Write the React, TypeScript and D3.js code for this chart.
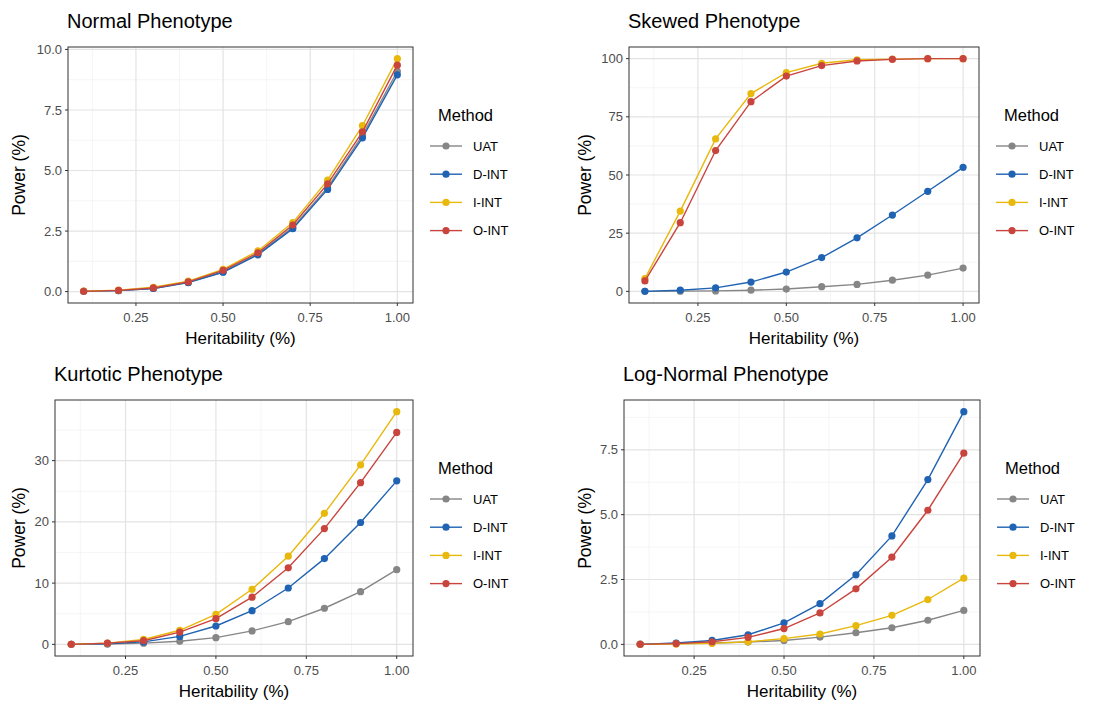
import React, { useEffect, useRef } from 'react';
import * as d3 from 'd3';

const heritability = [0.1, 0.2, 0.3, 0.4, 0.5, 0.6, 0.7, 0.8, 0.9, 1.0];
const methods = ['UAT', 'D-INT', 'I-INT', 'O-INT'];
const methodColors = ['#868686', '#1f63b2', '#e9b80c', '#c9443d'];
const xTicks = [0.25, 0.5, 0.75, 1.0];
const xTickLabels = ['0.25', '0.50', '0.75', '1.00'];

// Normal phenotype
const normalUAT = [0.01, 0.04, 0.13, 0.38, 0.82, 1.55, 2.65, 4.3, 6.45, 9.1];
const normalDINT = [0.01, 0.04, 0.13, 0.37, 0.8, 1.52, 2.6, 4.22, 6.35, 8.95];
const normalIINT = [0.02, 0.06, 0.18, 0.43, 0.92, 1.68, 2.85, 4.6, 6.85, 9.62];
const normalOINT = [0.01, 0.05, 0.15, 0.4, 0.88, 1.6, 2.75, 4.45, 6.6, 9.35];
const normalTicks = [0, 2.5, 5, 7.5, 10];
const normalTickLabels = ['0.0', '2.5', '5.0', '7.5', '10.0'];

// Skewed phenotype
const skewedUAT = [0, 0.1, 0.2, 0.5, 1.0, 2.0, 3.0, 4.8, 7.0, 10.0];
const skewedDINT = [0, 0.5, 1.5, 4.0, 8.3, 14.5, 23.0, 32.8, 43.0, 53.3];
const skewedIINT = [5.5, 34.5, 65.5, 85.0, 94.0, 98.0, 99.5, 99.8, 100, 100];
const skewedOINT = [4.5, 29.5, 60.5, 81.5, 92.5, 97.0, 99.0, 99.7, 100, 100];
const skewedTicks = [0, 25, 50, 75, 100];
const skewedTickLabels = ['0', '25', '50', '75', '100'];

// Kurtotic phenotype
const kurtUAT = [0, 0.05, 0.2, 0.5, 1.1, 2.2, 3.7, 5.9, 8.6, 12.2];
const kurtDINT = [0, 0.1, 0.4, 1.3, 3.0, 5.5, 9.2, 14.0, 19.9, 26.7];
const kurtIINT = [0, 0.2, 0.8, 2.3, 4.9, 9.0, 14.4, 21.4, 29.3, 38.0];
const kurtOINT = [0, 0.2, 0.6, 2.0, 4.2, 7.7, 12.5, 18.9, 26.4, 34.6];
const kurtTicks = [0, 10, 20, 30];
const kurtTickLabels = ['0', '10', '20', '30'];

// Log-normal phenotype
const lognUAT = [0.01, 0.04, 0.05, 0.09, 0.15, 0.28, 0.45, 0.64, 0.93, 1.31];
const lognDINT = [0, 0.05, 0.15, 0.37, 0.83, 1.57, 2.68, 4.18, 6.35, 8.97];
const lognIINT = [0, 0.01, 0.04, 0.1, 0.22, 0.4, 0.72, 1.12, 1.73, 2.55];
const lognOINT = [0, 0.03, 0.1, 0.27, 0.61, 1.21, 2.14, 3.36, 5.17, 7.37];
const lognTicks = [0, 2.5, 5, 7.5];
const lognTickLabels = ['0.0', '2.5', '5.0', '7.5'];

const panels = [
  { title: 'Normal Phenotype', series: [normalUAT, normalDINT, normalIINT, normalOINT], ticks: normalTicks, tickLabels: normalTickLabels, box: [68, 47, 413, 303], ylabX: 19 },
  { title: 'Skewed Phenotype', series: [skewedUAT, skewedDINT, skewedIINT, skewedOINT], ticks: skewedTicks, tickLabels: skewedTickLabels, box: [629, 47, 979, 303], ylabX: 585 },
  { title: 'Kurtotic Phenotype', series: [kurtUAT, kurtDINT, kurtIINT, kurtOINT], ticks: kurtTicks, tickLabels: kurtTickLabels, box: [55, 400, 413, 656], ylabX: 19 },
  { title: 'Log-Normal Phenotype', series: [lognUAT, lognDINT, lognIINT, lognOINT], ticks: lognTicks, tickLabels: lognTickLabels, box: [624, 400, 980, 656], ylabX: 585 },
];

const FONT = '"Liberation Sans", Arial, Helvetica, sans-serif';

const App = () => {
  const svgRef = useRef<SVGSVGElement>(null);

  useEffect(() => {
    const svg = d3.select(svgRef.current);
    svg.selectAll('*').remove();

    panels.forEach(p => {
      const [x0, y0, x1, y1] = p.box;
      const g = svg.append('g');

      // scales with ggplot-style 5% expansion
      const x = d3.scaleLinear().domain([0.1 - 0.045, 1.0 + 0.045]).range([x0, x1]);
      const all = p.series.flat();
      const lo = d3.min(all)!, hi = d3.max(all)!;
      const pad = (hi - lo) * 0.05;
      const y = d3.scaleLinear().domain([lo - pad, hi + pad]).range([y1, y0]);

      // minor grid
      const step = p.ticks[1] - p.ticks[0];
      const yMinor = p.ticks.map(t => t + step / 2).filter(t => y(t) > y0 && y(t) < y1);
      const yMinorLow = p.ticks[0] - step / 2;
      if (y(yMinorLow) < y1) yMinor.push(yMinorLow);
      const xMinor = [0.125, 0.375, 0.625, 0.875];

      g.selectAll('.ymin').data(yMinor).enter().append('line')
        .attr('x1', x0).attr('x2', x1).attr('y1', d => y(d)).attr('y2', d => y(d))
        .attr('stroke', '#f0f0f0').attr('stroke-width', 0.7);
      g.selectAll('.xmin').data(xMinor).enter().append('line')
        .attr('y1', y0).attr('y2', y1).attr('x1', d => x(d)).attr('x2', d => x(d))
        .attr('stroke', '#f0f0f0').attr('stroke-width', 0.7);

      // major grid
      g.selectAll('.ymaj').data(p.ticks).enter().append('line')
        .attr('x1', x0).attr('x2', x1).attr('y1', d => y(d)).attr('y2', d => y(d))
        .attr('stroke', '#e3e3e3').attr('stroke-width', 1.2);
      g.selectAll('.xmaj').data(xTicks).enter().append('line')
        .attr('y1', y0).attr('y2', y1).attr('x1', d => x(d)).attr('x2', d => x(d))
        .attr('stroke', '#e3e3e3').attr('stroke-width', 1.2);

      // series lines and points
      const line = d3.line<number>().x((d, i) => x(heritability[i])).y(d => y(d));
      p.series.forEach((s, k) => {
        g.append('path').datum(s)
          .attr('d', line)
          .attr('fill', 'none')
          .attr('stroke', methodColors[k])
          .attr('stroke-width', 1.4);
        g.selectAll('.pt' + k).data(s).enter().append('circle')
          .attr('cx', (d, i) => x(heritability[i]))
          .attr('cy', d => y(d))
          .attr('r', 3.6)
          .attr('fill', methodColors[k]);
      });

      // panel border
      g.append('rect')
        .attr('x', x0).attr('y', y0).attr('width', x1 - x0).attr('height', y1 - y0)
        .attr('fill', 'none').attr('stroke', '#333333').attr('stroke-width', 1);

      // y axis ticks and labels
      p.ticks.forEach((t, i) => {
        g.append('line').attr('x1', x0 - 3).attr('x2', x0).attr('y1', y(t)).attr('y2', y(t))
          .attr('stroke', '#333333').attr('stroke-width', 1);
        g.append('text').attr('x', x0 - 6).attr('y', y(t)).attr('dy', '0.35em')
          .attr('text-anchor', 'end').attr('fill', '#4d4d4d')
          .style('font-family', FONT).style('font-size', '13px')
          .text(p.tickLabels[i]);
      });

      // x axis ticks and labels
      xTicks.forEach((t, i) => {
        g.append('line').attr('x1', x(t)).attr('x2', x(t)).attr('y1', y1).attr('y2', y1 + 3)
          .attr('stroke', '#333333').attr('stroke-width', 1);
        g.append('text').attr('x', x(t)).attr('y', y1 + 19)
          .attr('text-anchor', 'middle').attr('fill', '#4d4d4d')
          .style('font-family', FONT).style('font-size', '13px')
          .text(xTickLabels[i]);
      });

      // axis titles
      g.append('text').attr('x', (x0 + x1) / 2).attr('y', y1 + 41)
        .attr('text-anchor', 'middle').attr('fill', '#000')
        .style('font-family', FONT).style('font-size', '17px')
        .text('Heritability (%)');
      g.append('text')
        .attr('transform', `translate(${p.ylabX},${(y0 + y1) / 2}) rotate(-90)`)
        .attr('text-anchor', 'middle').attr('dy', '0.35em').attr('fill', '#000')
        .style('font-family', FONT).style('font-size', '17.5px')
        .text('Power (%)');

      // title
      g.append('text').attr('x', x0 - 1).attr('y', y0 - 19)
        .attr('fill', '#000')
        .style('font-family', FONT).style('font-size', '20px')
        .text(p.title);

      // legend
      const lx = x1 + 17;
      const ly = (y0 + y1) / 2 - 54;
      g.append('text').attr('x', lx + 8).attr('y', ly)
        .attr('fill', '#000')
        .style('font-family', FONT).style('font-size', '16.5px')
        .text('Method');
      methods.forEach((m, k) => {
        const yy = ly + 25 + k * 28.2;
        g.append('line').attr('x1', lx).attr('x2', lx + 32).attr('y1', yy).attr('y2', yy)
          .attr('stroke', methodColors[k]).attr('stroke-width', 1.4);
        g.append('circle').attr('cx', lx + 16).attr('cy', yy).attr('r', 3.6)
          .attr('fill', methodColors[k]);
        g.append('text').attr('x', lx + 43).attr('y', yy).attr('dy', '0.35em')
          .attr('fill', '#000')
          .style('font-family', FONT).style('font-size', '13px')
          .text(m);
      });
    });
  }, []);

  return (
    <svg
      ref={svgRef}
      width={1114}
      height={702}
      style={{ position: 'absolute', left: 0, top: 0, background: '#fff' }}
    />
  );
};

export default App;
